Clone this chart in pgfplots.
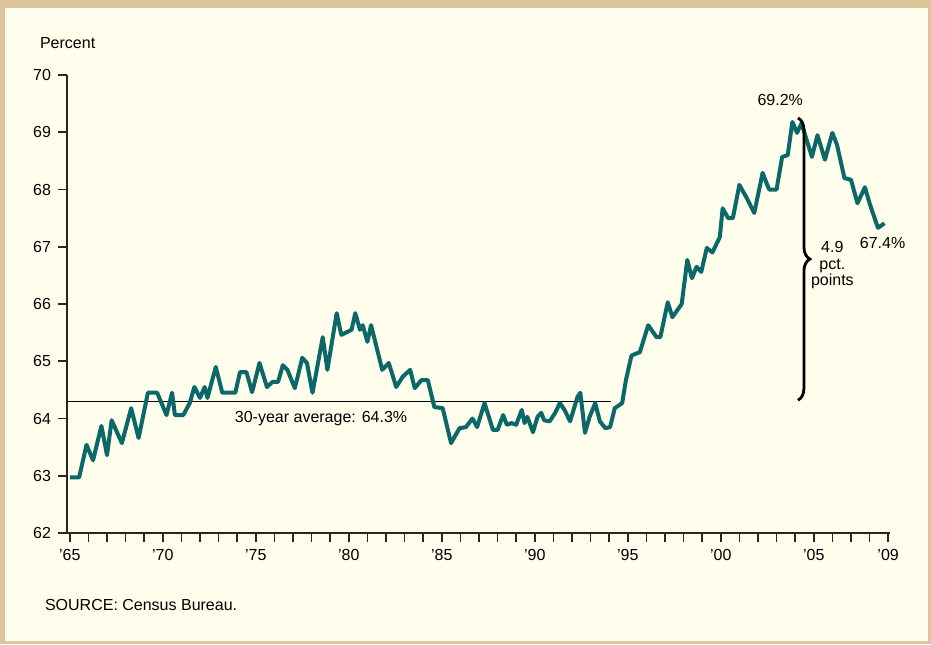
\documentclass[border=0pt]{standalone}
\usepackage{pgfplots}
\pgfplotsset{compat=1.18}
\usepackage{fontspec}
\setmainfont{Liberation Sans}
\usetikzlibrary{decorations.pathreplacing}
\definecolor{frametan}{RGB}{221,196,154}
\definecolor{paper}{RGB}{255,253,235}
\definecolor{lineteal}{RGB}{12,104,104}
\begin{document}
\begin{tikzpicture}[font=\fontsize{8}{9.6}\selectfont]
\fill[frametan] (-33.5pt,-55.5pt) rectangle (432pt,266.5pt);
\fill[paper] (-31pt,-54pt) rectangle (430.5pt,262.5pt);
\begin{axis}[
    at={(0,0)}, anchor=south west,
    scale only axis, width=411.5pt, height=229pt,
    xmin=1964.85, xmax=2009.1, ymin=62, ymax=70,
    axis lines=left,
    axis line style={-, line width=1pt, black!85},
    ytick={62,63,...,70},
    xtick={1965,1970,1975,1980,1985,1990,1995,2000,2005,2009},
    xticklabels={'65,'70,'75,'80,'85,'90,'95,'00,'05,'09},
    minor xtick={1965,1966,...,2009},
    tick align=outside,
    major tick length=4.5pt, minor tick length=4.5pt,
    tick style={line width=0.8pt, black!85},
    every tick label/.append style={font=\fontsize{8}{9.6}\selectfont},
    /pgf/number format/assume math mode=true,
    clip=false,
]
\addplot[black, line width=0.7pt] coordinates {(1964.85,64.3) (1994.1,64.3)};
\addplot[lineteal, line width=2pt, line join=round] coordinates {
(1965.0,62.97) (1965.5,62.97) (1965.9,63.54) (1966.25,63.27) (1966.7,63.87)
(1967.0,63.36) (1967.25,63.97) (1967.8,63.57) (1968.3,64.18) (1968.7,63.66)
(1969.2,64.45) (1969.7,64.45) (1970.2,64.06) (1970.5,64.45) (1970.65,64.06)
(1971.1,64.06) (1971.45,64.27) (1971.7,64.55) (1972.0,64.36) (1972.25,64.55)
(1972.4,64.36) (1972.85,64.9) (1973.2,64.45) (1973.9,64.45) (1974.15,64.81)
(1974.5,64.81) (1974.8,64.46) (1975.2,64.97) (1975.6,64.55) (1975.9,64.64)
(1976.2,64.64) (1976.45,64.93) (1976.7,64.85) (1977.1,64.53) (1977.5,65.06)
(1977.75,64.97) (1978.05,64.45) (1978.6,65.42) (1978.85,64.85) (1979.35,65.84)
(1979.6,65.46) (1980.15,65.55) (1980.35,65.84) (1980.6,65.55) (1980.75,65.63)
(1981.0,65.34) (1981.2,65.63) (1981.8,64.85) (1982.15,64.97) (1982.55,64.55)
(1982.9,64.73) (1983.3,64.85) (1983.55,64.53) (1983.9,64.67) (1984.25,64.67)
(1984.6,64.2) (1985.05,64.18) (1985.5,63.57) (1985.95,63.83) (1986.3,63.85)
(1986.65,64.0) (1986.9,63.85) (1987.3,64.27) (1987.75,63.8) (1988.0,63.8)
(1988.3,64.06) (1988.5,63.89) (1988.75,63.92) (1989.0,63.89) (1989.3,64.15)
(1989.45,63.92) (1989.6,64.03) (1989.9,63.76) (1990.15,64.03) (1990.35,64.1)
(1990.5,63.97) (1990.8,63.95) (1991.1,64.1) (1991.35,64.27) (1991.6,64.15)
(1991.9,63.95) (1992.3,64.38) (1992.45,64.45) (1992.7,63.75) (1992.95,64.03)
(1993.25,64.27) (1993.5,63.95) (1993.8,63.83) (1994.05,63.85) (1994.3,64.18)
(1994.7,64.27) (1994.9,64.67) (1995.2,65.1) (1995.65,65.16) (1996.1,65.63)
(1996.55,65.42) (1996.75,65.42) (1997.15,66.03) (1997.4,65.77) (1997.9,66.0)
(1998.2,66.77) (1998.45,66.45) (1998.7,66.65) (1998.95,66.56) (1999.25,66.98)
(1999.55,66.9) (1999.95,67.17) (2000.1,67.67) (2000.4,67.5) (2000.65,67.5)
(2001.0,68.08) (2001.4,67.85) (2001.8,67.59) (2002.25,68.29) (2002.6,68.0)
(2003.0,68.0) (2003.3,68.57) (2003.6,68.6) (2003.85,69.18) (2004.1,68.99)
(2004.35,69.16) (2004.5,68.99) (2004.9,68.57) (2005.2,68.95) (2005.6,68.52)
(2006.0,68.99) (2006.25,68.78) (2006.65,68.2) (2007.0,68.17) (2007.35,67.76)
(2007.75,68.04) (2008.0,67.76) (2008.45,67.33) (2008.8,67.41)
};
\node[anchor=west] at (axis cs:1973.5,64.0) {30-year average: 64.3\%};
\node at (axis cs:2003.2,69.56) {69.2\%};
\draw[decorate, decoration={brace, amplitude=6pt}, line width=1.4pt]
    (axis cs:2004.15,69.25) -- (axis cs:2004.15,64.32);
\node[align=center, inner sep=0pt] at (axis cs:2006.0,66.68)
    {4.9\\[-1.5pt]pct.\\[-1.5pt]points};
\node at (axis cs:2008.7,67.07) {67.4\%};
\end{axis}
\node[anchor=west] at (-17pt,245pt) {Percent};
\node[anchor=west] at (-14.5pt,-36pt) {SOURCE: Census Bureau.};
\pgfresetboundingbox
\useasboundingbox (-33.5pt,-55.5pt) rectangle (432pt,266.5pt);
\end{tikzpicture}
\end{document}
